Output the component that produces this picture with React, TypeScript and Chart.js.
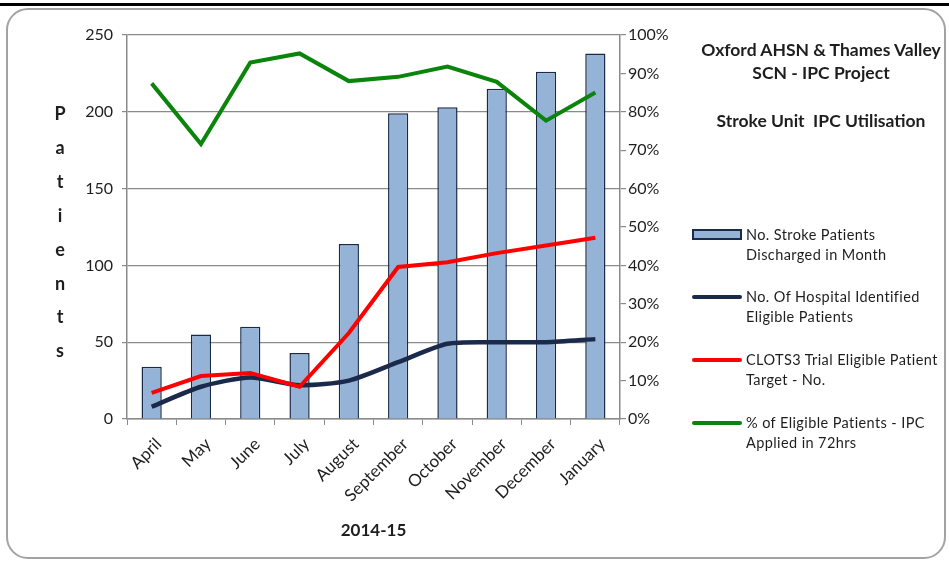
import React, { useEffect, useRef } from "react";
import { Chart, registerables } from "chart.js";

Chart.register(...registerables);

const months = ["April", "May", "June", "July", "August", "September", "October", "November", "December", "January"];
const discharged = [34, 55, 60, 43, 114, 199, 203, 215, 226, 238];
const hospitalEligible = [8, 21, 27, 22, 25, 37, 49, 50, 50, 52];
const clotsTarget = [17, 28, 30, 21, 56, 99, 102, 108, 113, 118];
const ipcPercent = [87.4, 71.6, 92.8, 95.2, 88, 89.1, 91.8, 87.8, 77.7, 85];

const titleLines = ["Oxford AHSN & Thames Valley", "SCN - IPC Project", "Stroke Unit  IPC Utilisation"];
const legendItems = [
  { kind: "bar", color: "#95B3D7", lines: ["No. Stroke Patients", "Discharged in Month"] },
  { kind: "line", color: "#1B2A4A", lines: ["No. Of Hospital Identified", "Eligible Patients"] },
  { kind: "line", color: "#FF0000", lines: ["CLOTS3 Trial Eligible Patient", "Target - No."] },
  { kind: "line", color: "#0A840A", lines: ["% of Eligible Patients - IPC", "Applied in 72hrs"] },
];
const yTitle = "Patients";
const xTitle = "2014-15";

const FONT = "Lato, 'Open Sans', sans-serif";
const GRID = "#8a8a8a";
const TEXT = "#1e1e1e";

export default function App() {
  const ref = useRef<HTMLCanvasElement>(null);

  useEffect(() => {
    const ctx = ref.current!.getContext("2d")!;
    const chart = new Chart(ctx, {
      type: "bar",
      data: {
        labels: months,
        datasets: [
          {
            type: "line",
            label: "% of Eligible Patients - IPC Applied in 72hrs",
            data: ipcPercent,
            yAxisID: "y1",
            borderColor: "#0A840A",
            borderWidth: 4,
            pointRadius: 0,
            tension: 0,
            order: 1,
          },
          {
            type: "line",
            label: "CLOTS3 Trial Eligible Patient Target - No.",
            data: clotsTarget,
            yAxisID: "y",
            borderColor: "#FF0000",
            borderWidth: 4,
            pointRadius: 0,
            tension: 0,
            order: 2,
          },
          {
            type: "line",
            label: "No. Of Hospital Identified Eligible Patients",
            data: hospitalEligible,
            yAxisID: "y",
            borderColor: "#1B2A4A",
            borderWidth: 4.5,
            pointRadius: 0,
            tension: 0.25,
            order: 3,
          },
          {
            type: "bar",
            label: "No. Stroke Patients Discharged in Month",
            data: discharged,
            yAxisID: "y",
            backgroundColor: "#95B3D7",
            borderColor: "#1B2A4A",
            borderWidth: 1.5,
            barPercentage: 0.41,
            categoryPercentage: 1,
            order: 4,
          },
        ],
      },
      options: {
        responsive: false,
        animation: false,
        layout: { padding: { top: 35, left: 0, right: 0, bottom: 0 } },
        plugins: { legend: { display: false }, tooltip: { enabled: false } },
        scales: {
          x: {
            offset: true,
            grid: { display: true, drawOnChartArea: false, drawTicks: true, tickLength: 6, color: GRID, offset: true },
            border: { display: true, color: GRID, width: 1.5 },
            ticks: {
              autoSkip: false,
              maxRotation: 45,
              minRotation: 45,
              labelOffset: 7,
              padding: 9,
              color: TEXT,
              font: { family: FONT, size: 17 },
            },
            title: {
              display: true,
              text: xTitle,
              color: TEXT,
              font: { family: FONT, size: 17, weight: "bold" },
              padding: { top: 0, bottom: 20 },
            },
            afterFit: (s: any) => {
              s.height = 142;
            },
          },
          y: {
            position: "left",
            min: 0,
            max: 250,
            ticks: { stepSize: 50, padding: 9, color: TEXT, font: { family: FONT, size: 16 } },
            grid: { color: GRID, lineWidth: 1.2, tickLength: 5 },
            border: { display: true, color: GRID, width: 1.5 },
            afterFit: (s: any) => {
              s.width = 127;
            },
          },
          y1: {
            position: "right",
            min: 0,
            max: 100,
            ticks: { stepSize: 10, padding: 2, color: TEXT, font: { family: FONT, size: 16 }, callback: (v: any) => v + "%" },
            grid: { drawOnChartArea: false, color: GRID, lineWidth: 1.2, tickLength: 6 },
            border: { display: true, color: GRID, width: 1.5 },
            afterFit: (s: any) => {
              s.width = 329;
            },
          },
        },
      },
    } as any);
    return () => chart.destroy();
  }, []);

  const legendTops = [225, 287, 350, 413];

  return (
    <div style={{ position: "absolute", left: 0, top: 0, width: 949, height: 561, background: "#fff", overflow: "hidden", fontFamily: FONT }}>
      <div style={{ position: "absolute", left: 0, top: 3, width: 949, height: 3, background: "#000" }} />
      <div
        style={{
          position: "absolute",
          left: 6,
          top: 8,
          width: 940,
          height: 551,
          border: "2px solid #a3a3a3",
          borderRadius: 22,
          boxSizing: "border-box",
        }}
      />
      <canvas ref={ref} width={949} height={561} style={{ position: "absolute", left: 0, top: 0 }} />
      {yTitle.split("").map((ch, i) => (
        <div
          key={i}
          style={{
            position: "absolute",
            left: 45,
            width: 30,
            top: 113 + i * 33.9 - 11,
            height: 22,
            lineHeight: "22px",
            textAlign: "center",
            fontWeight: "bold",
            fontSize: 18,
            color: TEXT,
          }}
        >
          {ch}
        </div>
      ))}
      {titleLines.map((t, i) => (
        <div
          key={i}
          style={{
            position: "absolute",
            left: 681,
            width: 280,
            top: [50, 73, 121][i] - 11,
            height: 22,
            lineHeight: "22px",
            textAlign: "center",
            fontWeight: "bold",
            fontSize: 17.5,
            color: TEXT,
            whiteSpace: "pre",
          }}
        >
          {t}
        </div>
      ))}
      {legendItems.map((it, i) => (
        <div key={i} style={{ position: "absolute", left: 692, top: legendTops[i], width: 257, height: 44 }}>
          {it.kind === "bar" ? (
            <div
              style={{
                position: "absolute",
                left: 0,
                top: 4,
                width: 50,
                height: 11,
                background: it.color,
                border: "2px solid #1B2A4A",
                boxSizing: "border-box",
              }}
            />
          ) : (
            <div style={{ position: "absolute", left: 0, top: 8, width: 50, height: 4, background: it.color, borderRadius: 2 }} />
          )}
          <div
            style={{
              position: "absolute",
              left: 54,
              top: 0,
              fontSize: 14.5,
              lineHeight: "20px",
              color: TEXT,
              letterSpacing: 0.4,
              whiteSpace: "nowrap",
            }}
          >
            {it.lines.map((l, j) => (
              <div key={j}>{l}</div>
            ))}
          </div>
        </div>
      ))}
    </div>
  );
}
